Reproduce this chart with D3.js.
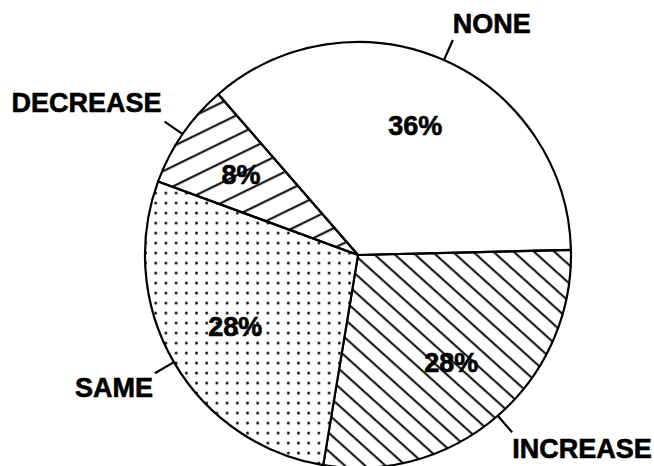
<!DOCTYPE html>
<html lang="en">
<head>
<meta http-equiv="Content-Type" content="text/html; charset=utf-8" />
<title>Pie chart</title>
<style>
   html,body { margin:0; padding:0; background:white; }
   svg { display:block; }
   text { font-family:"Liberation Sans", Arial, Sans-Serif; font-weight:bold; font-size:27px; fill:black; stroke:black; stroke-width:0.6px; }
</style>
<script src="https://d3js.org/d3.v7.min.js"></script>
</head>
<body>
<script>
// values, in drawing order (clockwise from upper left)
let categories = ['NONE','INCREASE','SAME','DECREASE'];
let percents = [36,28,28,8];
let fills = ['white','url(#hatchdown)','url(#dots)','url(#hatchup)'];
let labelanchor = ['start','start','end','end'];

let width = 654, height = 466;
let cx = 358, cy = 255, r = 213;
let startdeg = -41; // NONE starts here

let svg = d3.select('body').append('svg')
   .attr('width',width)
   .attr('height',height);

// fill patterns
let defs = svg.append('defs');
let p1 = defs.append('pattern') // INCREASE, lines falling to the right
   .attr('id','hatchdown')
   .attr('patternUnits','userSpaceOnUse')
   .attr('width',40).attr('height',13.6)
   .attr('patternTransform','rotate(42)');
p1.append('line').attr('x1',0).attr('x2',40).attr('y1',2.2).attr('y2',2.2)
   .attr('stroke','black').attr('stroke-width',1.9);
let p2 = defs.append('pattern') // DECREASE, lines rising to the right
   .attr('id','hatchup')
   .attr('patternUnits','userSpaceOnUse')
   .attr('width',40).attr('height',18)
   .attr('patternTransform','rotate(-26)');
p2.append('line').attr('x1',0).attr('x2',40).attr('y1',1.2).attr('y2',1.2)
   .attr('stroke','black').attr('stroke-width',1.9);
let p3 = defs.append('pattern') // SAME, dot grid
   .attr('id','dots')
   .attr('patternUnits','userSpaceOnUse')
   .attr('x',0.3).attr('y',6.7)
   .attr('width',10.2).attr('height',10);
p3.append('rect').attr('width',10.2).attr('height',10).attr('fill','white');
p3.append('circle').attr('cx',1.4).attr('cy',1.4).attr('r',1.4).attr('fill','black');

let data = categories.map((c,i) => ({name:c, value:percents[i], fill:fills[i], anchor:labelanchor[i]}));

let pie = d3.pie()
   .sort(null)
   .value(d => d.value)
   .startAngle(startdeg*Math.PI/180)
   .endAngle((startdeg+360)*Math.PI/180);
let arcs = pie(data);

let arc = d3.arc().innerRadius(0).outerRadius(r);
let labelarc = d3.arc().innerRadius(142).outerRadius(142);
let leadin = d3.arc().innerRadius(r).outerRadius(r);
let leadout = d3.arc().innerRadius(r+22).outerRadius(r+22);

let g = svg.append('g').attr('transform',`translate(${cx},${cy})`);

g.selectAll('path.slice')
   .data(arcs)
   .join('path')
   .attr('class','slice')
   .attr('d',arc)
   .attr('fill',d => d.data.fill)
   .attr('stroke','black')
   .attr('stroke-width',2.2)
   .attr('stroke-linejoin','round');

// percent labels
g.selectAll('text.pct')
   .data(arcs)
   .join('text')
   .attr('class','pct')
   .attr('transform',d => `translate(${labelarc.centroid(d)})`)
   .attr('text-anchor','middle')
   .attr('dy','0.36em')
   .text(d => d.data.value+'%');

// leader ticks
g.selectAll('line.lead')
   .data(arcs)
   .join('line')
   .attr('class','lead')
   .attr('x1',d => leadin.centroid(d)[0])
   .attr('y1',d => leadin.centroid(d)[1])
   .attr('x2',d => leadout.centroid(d)[0])
   .attr('y2',d => leadout.centroid(d)[1])
   .attr('stroke','black')
   .attr('stroke-width',2.2);

// category labels
let nudge = {NONE:[0,-7], INCREASE:[0,26], SAME:[-2,24], DECREASE:[-3,-10]};
g.selectAll('text.cat')
   .data(arcs)
   .join('text')
   .attr('class','cat')
   .attr('x',d => leadout.centroid(d)[0]+nudge[d.data.name][0])
   .attr('y',d => leadout.centroid(d)[1]+nudge[d.data.name][1])
   .attr('text-anchor',d => d.data.anchor)
   .text(d => d.data.name);
</script>
</body>
</html>
